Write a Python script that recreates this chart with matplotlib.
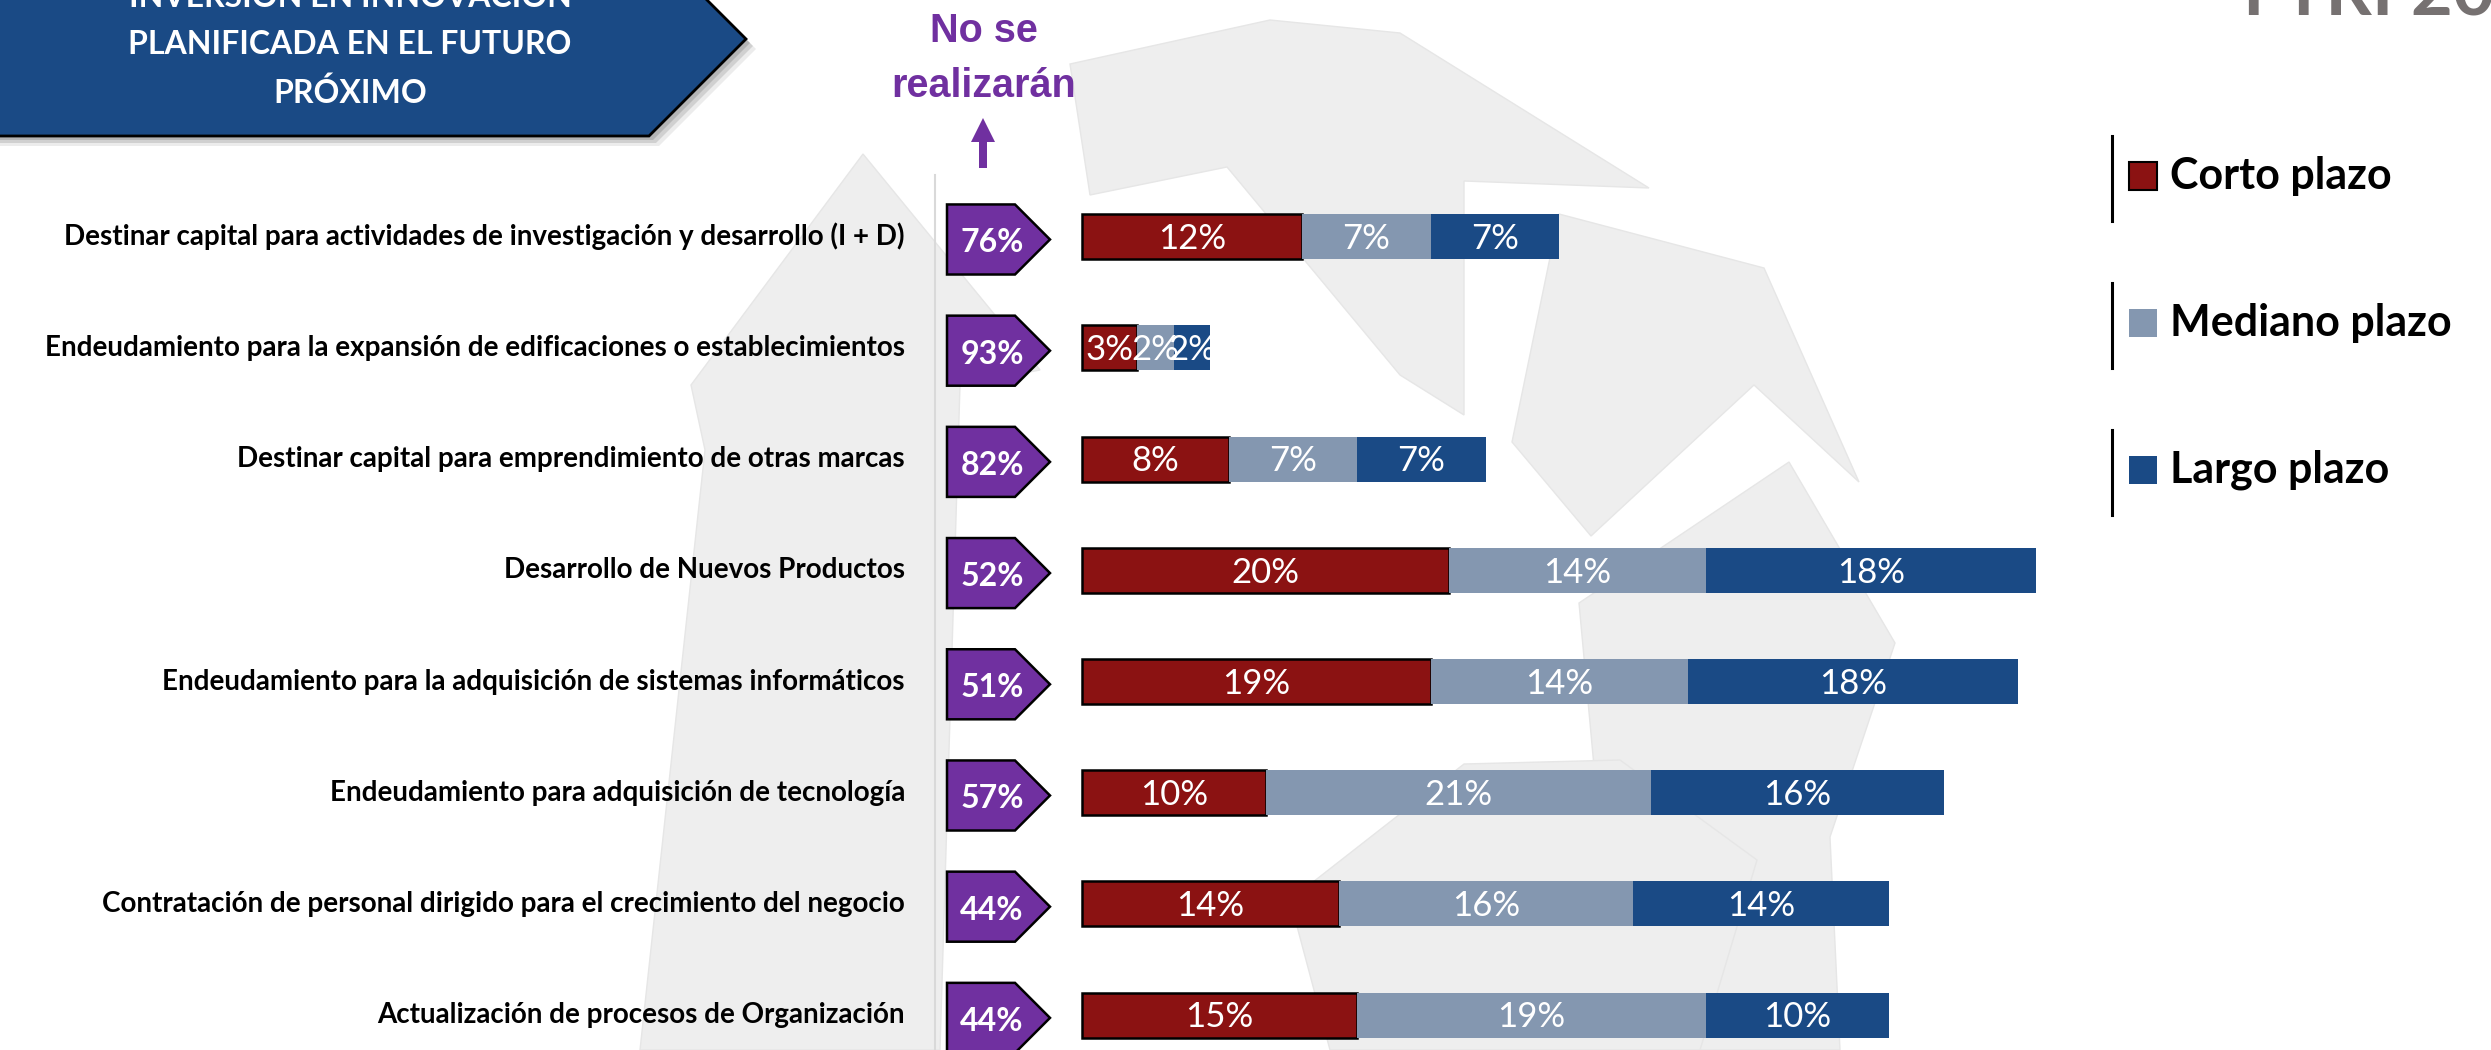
import numpy as np
import matplotlib.pyplot as plt
from matplotlib.patches import Polygon, Rectangle

# --- Datos ---
categorias = [
    'Destinar capital para actividades de investigación y desarrollo (I + D)',
    'Endeudamiento para la expansión de edificaciones o establecimientos',
    'Destinar capital para emprendimiento de otras marcas',
    'Desarrollo de Nuevos Productos',
    'Endeudamiento para la adquisición de sistemas informáticos',
    'Endeudamiento para adquisición de tecnología',
    'Contratación de personal dirigido para el crecimiento del negocio',
    'Actualización de procesos de Organización',
]
corto = [12, 3, 8, 20, 19, 10, 14, 15]
mediano = [7, 2, 7, 14, 14, 21, 16, 19]
largo = [7, 2, 7, 18, 18, 16, 14, 10]
no_realizaran = [76, 93, 82, 52, 51, 57, 44, 44]

series = ['Corto plazo', 'Mediano plazo', 'Largo plazo']
colores = ['#8B1212', '#8497B0', '#1A4A85']
morado = '#7030A0'

W, H = 2491, 1050
fig = plt.figure(figsize=(W / 100, H / 100), dpi=100)
fig.patch.set_facecolor('white')

# capa de fondo en pixeles (decoracion, titulos, leyenda)
bg = fig.add_axes([0, 0, 1, 1], zorder=0)
bg.set_xlim(0, W)
bg.set_ylim(H, 0)
bg.axis('off')

# marca de agua (logo gris claro, aproximado)
marca = [
    [(863, 154), (1040, 370), (960, 385), (940, 1050), (640, 1050), (705, 450), (691, 385)],
    [(1070, 64), (1270, 20), (1400, 33), (1649, 188), (1464, 181), (1464, 415),
     (1400, 375), (1227, 167), (1090, 195)],
    [(1559, 214), (1764, 268), (1859, 482), (1754, 385), (1591, 536), (1512, 442)],
    [(1789, 462), (1895, 643), (1830, 837), (1840, 1050), (1620, 1050), (1579, 603)],
    [(1464, 764), (1620, 760), (1757, 860), (1700, 1050), (1330, 1050), (1290, 900)],
]
for pts in marca:
    bg.add_patch(Polygon(pts, closed=True, fc='#EEEEEE', ec='#E6E6E6', lw=1, zorder=0))

# banner
banner = [(-10, -60), (647, -60), (746, 39), (649, 136), (-10, 136)]
for k, a in [(10, 0.15), (7, 0.25), (4, 0.35)]:
    bg.add_patch(Polygon([(x + k, y + k) for x, y in banner], closed=True,
                         fc='#808080', ec='none', alpha=a, zorder=1))
bg.add_patch(Polygon(banner, closed=True, fc='#1A4A85', ec='black', lw=2, zorder=2))
for txt, yy in [('INVERSIÓN EN INNOVACIÓN', -3), ('PLANIFICADA EN EL FUTURO', 45), ('PRÓXIMO', 93)]:
    bg.text(350, yy, txt, ha='center', va='center', color='white',
            fontsize=23, fontweight='bold', family='Lato', zorder=3)

# titulo derecho
bg.text(2243, 16, 'I TRI 2021', ha='left', va='baseline', color='#767171',
        fontsize=52, fontweight='bold', family='Lato')

# "No se realizarán"
bg.text(984, 42, 'No se', ha='center', va='baseline', color=morado,
        fontsize=28.5, fontweight='bold', family='Liberation Sans')
bg.text(984, 97, 'realizarán', ha='center', va='baseline', color=morado,
        fontsize=28.5, fontweight='bold', family='Liberation Sans')
bg.arrow(983, 168, 0, -50, width=8, head_width=24, head_length=24,
         length_includes_head=True, fc=morado, ec='none')

# linea vertical
bg.plot([935, 935], [175, 1050], color='#D9D9D9', lw=1.5)

# leyenda
leg_y = [176, 323, 470]
for lab, col, yy in zip(series, colores, leg_y):
    bg.plot([2112, 2112], [yy - 40, yy + 45], color='black', lw=2.2)
    bg.add_patch(Rectangle((2129, yy - 14), 28, 28, fc=col,
                           ec='black' if lab == 'Corto plazo' else 'none', lw=1.5))
    bg.text(2170, yy, lab, ha='left', va='center', fontsize=31,
            fontweight='bold', family='Lato')

# --- Barras ---
PX = 18.35          # pixeles por punto porcentual
X0 = 1082           # pixel donde empieza la barra
ROW0, DY = 236.7, 111.2
n = len(categorias)
top_px = ROW0 - DY / 2
ax = fig.add_axes([0, 1 - (top_px + n * DY) / H, 1, n * DY / H], zorder=1)
ax.set_xlim(-X0 / PX, (W - X0) / PX)
ax.set_ylim(n - 0.5, -0.5)
ax.axis('off')
ax.patch.set_alpha(0)

px2x = lambda p: (p - X0) / PX
y = np.arange(n)
left = np.zeros(n)
for vals, col, lab in zip([corto, mediano, largo], colores, series):
    vals = np.array(vals, float)
    ax.barh(y, vals, left=left, height=0.405, color=col,
            edgecolor='black' if lab == 'Corto plazo' else col,
            linewidth=1.8 if lab == 'Corto plazo' else 0)
    for yi, l, v in zip(y, left, vals):
        ax.text(l + v / 2, yi + 0.02, f'{int(v)}%', ha='center', va='center',
                color='white', fontsize=25, family='Lato')
    left += vals

# etiquetas de categorias
for yi, cat in zip(y, categorias):
    ax.text(px2x(905), yi, cat, ha='right', va='center', fontsize=20,
            fontweight='bold', family='Lato', clip_on=False)

# insignias moradas
xb0, xb1, xb2 = px2x(947), px2x(1015), px2x(1050)
hh = 0.315
for yi, v in zip(y, no_realizaran):
    yc = yi + 0.025
    pts = [(xb0, yc - hh), (xb1, yc - hh), (xb2, yc), (xb1, yc + hh), (xb0, yc + hh)]
    ax.add_patch(Polygon(pts, closed=True, fc=morado, ec='black', lw=1.8))
    ax.text(px2x(992), yc + 0.03, f'{v}%', ha='center', va='center',
            color='white', fontsize=23, fontweight='bold', family='Lato')

fig.savefig('out.png', dpi=100, facecolor='white')
